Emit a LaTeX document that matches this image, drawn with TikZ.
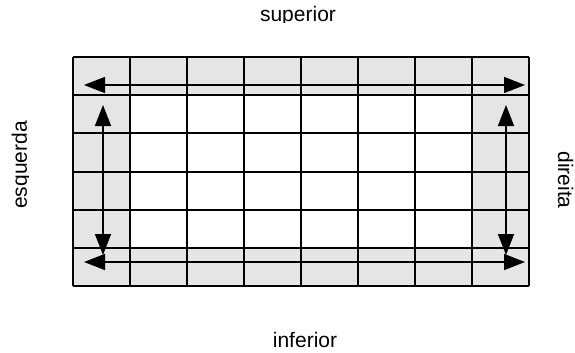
\documentclass[tikz,border=0pt]{standalone}
\usepackage{fontspec}
\setmainfont{Liberation Sans}
\usetikzlibrary{arrows.meta}
\definecolor{cellgray}{RGB}{229,229,229}
\tikzset{
  gridline/.style={line width=2pt, black},
  edgecell/.style={fill=cellgray},
  sidearrow/.style={line width=1.5pt, {Triangle[length=21pt,width=16pt]}-{Triangle[length=21pt,width=16pt]}},
  label/.style={inner sep=0pt, font=\fontsize{21}{24}\selectfont}
}
\begin{document}
\begin{tikzpicture}[x=1pt,y=-1pt]
\useasboundingbox (0,0) rectangle (575,353);
% gray border cells
\fill[edgecell] (73,57) rectangle (529,95.2);
\fill[edgecell] (73,247.8) rectangle (529,286);
\fill[edgecell] (73,57) rectangle (130,286);
\fill[edgecell] (472,57) rectangle (529,286);
% grid
\foreach \i in {0,...,8} {
  \draw[gridline] ({73+57*\i},57) -- ({73+57*\i},286);
}
\foreach \j in {0,...,6} {
  \draw[gridline] (73,{57+38.17*\j}) -- (529,{57+38.17*\j});
}
% arrow end points
\coordinate (tl) at (84,85);
\coordinate (tr) at (525,85);
\coordinate (bl) at (84,262);
\coordinate (br) at (525,262);
\coordinate (lu) at (103,105);
\coordinate (ld) at (103,255);
\coordinate (ru) at (506,105);
\coordinate (rd) at (506,255);
\draw[sidearrow] (tl) -- (tr);
\draw[sidearrow] (bl) -- (br);
\draw[sidearrow] (lu) -- (ld);
\draw[sidearrow] (ru) -- (rd);
% labels
\begin{scope}
\clip (0,0) rectangle (575,23);
\node[label, anchor=base] (sup) at (298,22) {superior};
\end{scope}
\node[label, anchor=base] (inf) at (305,347) {inferior};
\begin{scope}
\clip (0,0) rectangle (28.5,353);
\node[label, anchor=base, rotate=90] (esq) at (27,165) {esquerda};
\end{scope}
\node[label, anchor=base, rotate=-90] (dir) at (558,180) {direita};
\end{tikzpicture}
\end{document}
